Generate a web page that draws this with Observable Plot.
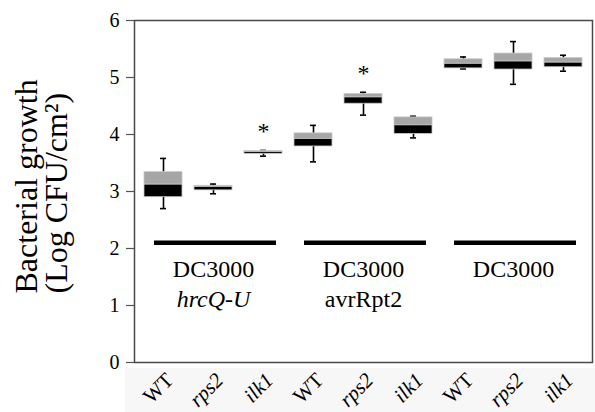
<!DOCTYPE html>
<html>
<head>
<meta charset="utf-8">
<script src="https://cdn.jsdelivr.net/npm/d3@7"></script>
<script src="https://cdn.jsdelivr.net/npm/@observablehq/plot@0.6"></script>
<style>
  html, body { margin: 0; padding: 0; background: #fff; }
  #chart { width: 595px; height: 412px; }
  #chart svg, #chart svg text { font-family: "Liberation Serif", "Times New Roman", serif; }
</style>
</head>
<body>
<div id="chart"></div>
<script>
// ---- data ----
const categories = ["hrcQ-U WT","hrcQ-U rps2","hrcQ-U ilk1","avrRpt2 WT","avrRpt2 rps2","avrRpt2 ilk1","DC3000 WT","DC3000 rps2","DC3000 ilk1"];
const tickLabels = ["WT","rps2","ilk1","WT","rps2","ilk1","WT","rps2","ilk1"];
const italicTick = [false,true,true,false,true,true,false,true,true];
const whiskerHigh = [3.58, 3.13, 3.72, 4.16, 4.74, 4.32, 5.36, 5.63, 5.39];
const q3          = [3.34, 3.10, 3.71, 4.02, 4.71, 4.30, 5.32, 5.42, 5.34];
const median      = [3.12, 3.08, 3.69, 3.92, 4.65, 4.16, 5.24, 5.28, 5.26];
const q1          = [2.90, 3.02, 3.66, 3.79, 4.54, 4.01, 5.16, 5.14, 5.18];
const whiskerLow  = [2.70, 2.96, 3.62, 3.52, 4.34, 3.94, 5.15, 4.88, 5.11];
const significant = [false,false,true,false,true,false,false,false,false];

const groupFirst  = ["hrcQ-U WT","avrRpt2 WT","DC3000 WT"];
const groupMiddle = ["hrcQ-U rps2","avrRpt2 rps2","DC3000 rps2"];
const groupLast   = ["hrcQ-U ilk1","avrRpt2 ilk1","DC3000 ilk1"];
const groupLine1  = ["DC3000","DC3000","DC3000"];
const groupLine2  = ["hrcQ-U","avrRpt2",""];
const groupLine2Italic = [true,false,false];
const groupLevel  = 2.1;

const yTicks = [0,1,2,3,4,5,6];
const yTitle = "Bacterial growth\n(Log CFU/cm²)";

// ---- tables built from the arrays ----
const boxes = categories.map((c,i) => ({
  cat: c, label: tickLabels[i], italic: italicTick[i],
  hi: whiskerHigh[i], q3: q3[i], med: median[i], q1: q1[i], lo: whiskerLow[i],
  sig: significant[i]
}));
const groups = groupFirst.map((f,i) => ({
  first: f, middle: groupMiddle[i], last: groupLast[i],
  l1: groupLine1[i], l2: groupLine2[i], it: groupLine2Italic[i], y: groupLevel
}));

const font = '"Liberation Serif", "Times New Roman", serif';

const chart = Plot.plot({
  width: 595,
  height: 412,
  marginLeft: 134,
  marginRight: 3,
  marginTop: 20,
  marginBottom: 50,
  style: { fontFamily: font, background: "transparent", color: "black" },
  x: { type: "band", domain: categories, paddingInner: 0.25, paddingOuter: 0.125, axis: null },
  y: { domain: [0, 6], axis: null },
  marks: [
    Plot.axisY({ ticks: yTicks, tickFormat: d3.format("d"), tickSize: 8, tickPadding: 7, fontSize: 20, fontFamily: font, label: null, stroke: "#555", strokeWidth: 1.2 }),
    // group bars
    Plot.ruleY(groups, { x1: "first", x2: "last", y: "y", stroke: "black", strokeWidth: 4.5, insetLeft: 10, insetRight: 6 }),
    Plot.text(groups, { x: "middle", y: "y", text: "l1", fontSize: 24, fontFamily: font, lineAnchor: "bottom", dy: 34 }),
    Plot.text(groups.filter(d => d.it), { x: "middle", y: "y", text: "l2", fontSize: 24, fontFamily: font, fontStyle: "italic", lineAnchor: "bottom", dy: 64 }),
    Plot.text(groups.filter(d => !d.it), { x: "middle", y: "y", text: "l2", fontSize: 24, fontFamily: font, lineAnchor: "bottom", dy: 64 }),
    // whiskers
    Plot.ruleX(boxes, { x: "cat", y1: "lo", y2: "hi", stroke: "black", strokeWidth: 1.6 }),
    Plot.tickY(boxes, { x: "cat", y: "hi", stroke: "black", strokeWidth: 1.6, inset: 16 }),
    Plot.tickY(boxes, { x: "cat", y: "lo", stroke: "black", strokeWidth: 1.6, inset: 16 }),
    // boxes
    Plot.barY(boxes, { x: "cat", y1: "med", y2: "q3", fill: "#a6a6a6", stroke: "#c8c8c8", strokeWidth: 0.8 }),
    Plot.barY(boxes, { x: "cat", y1: "q1", y2: "med", fill: "black", stroke: "#c8c8c8", strokeWidth: 0.8 }),
    // asterisks
    Plot.text(boxes.filter(d => d.sig), { x: "cat", y: "hi", text: () => "*", fontSize: 24, fontFamily: font, lineAnchor: "bottom", dy: -11 }),
    // x tick labels
    Plot.text(boxes.filter(d => !d.italic), { x: "cat", text: "label", frameAnchor: "bottom", dy: 19, dx: 11, rotate: -45, textAnchor: "end", lineAnchor: "bottom", fontSize: 21, fontFamily: font }),
    Plot.text(boxes.filter(d => d.italic), { x: "cat", text: "label", frameAnchor: "bottom", dy: 19, dx: 11, rotate: -45, textAnchor: "end", lineAnchor: "bottom", fontSize: 21, fontFamily: font, fontStyle: "italic" }),
    // y title
    Plot.text([yTitle], { text: d => d, frameAnchor: "left", dx: -92, dy: 102, rotate: -90, textAnchor: "start", lineAnchor: "middle", fontSize: 32, fontFamily: font, lineHeight: 0.92 }),
    Plot.frame({ stroke: "#4a4a4a", strokeWidth: 1.5 })
  ]
});

// light grey strip behind the category labels
const svg = d3.select(chart);
svg.insert("rect", ":first-child")
  .attr("x", 125).attr("y", 368).attr("width", 470).attr("height", 44)
  .attr("fill", "#f7f7f7");
svg.insert("rect", ":first-child")
  .attr("x", 0).attr("y", 0).attr("width", 595).attr("height", 412)
  .attr("fill", "white");

document.getElementById("chart").appendChild(chart);
</script>
</body>
</html>
